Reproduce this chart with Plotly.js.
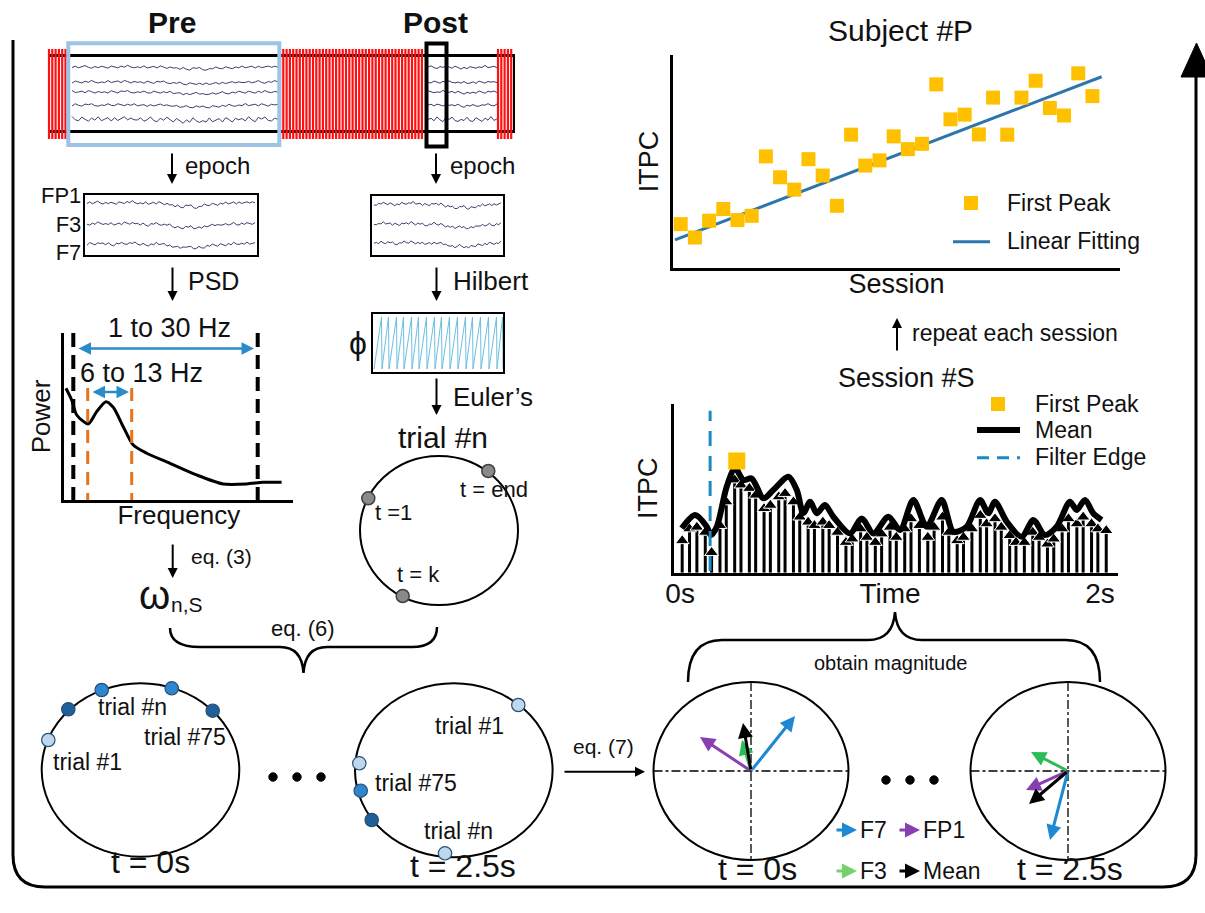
<!DOCTYPE html>
<html><head><meta charset="utf-8">
<script src="https://cdn.plot.ly/plotly-3.0.1.min.js"></script>
<style>html,body{margin:0;padding:0;background:#fff}#chart{width:1205px;height:913px}</style>
</head><body><div id="chart"></div>
<script>
// ---------------- data ----------------
// Subject #P : first-peak ITPC per session
const sessions = [1,2,3,4,5,6,7,8,9,10,11,12,13,14,15,16,17,18,19,20,21,22,23,24,25,26,27,28,29,30];
const firstPeakITPC = [0.206,0.143,0.222,0.277,0.225,0.245,0.524,0.426,0.368,0.511,0.434,0.292,0.626,0.481,0.505,0.618,0.558,0.583,0.862,0.698,0.720,0.627,0.800,0.626,0.800,0.879,0.751,0.716,0.914,0.807];
const fitSessions = [0.6, 30.65];
const fitITPC = [0.132, 0.898];

// Session #S : mean ITPC over time
const meanTime = [0.008,0.071,0.127,0.146,0.175,0.222,0.262,0.302,0.341,0.397,0.444,0.516,0.556,0.587,0.619,0.651,0.690,0.730,0.810,0.865,0.921,0.992,1.048,1.111,1.175,1.246,1.302,1.365,1.429,1.468,1.500,1.556,1.627,1.683,1.738,1.794,1.857,1.889,1.929,1.968,2.008];
const meanITPC = [0.263,0.342,0.273,0.223,0.273,0.510,0.619,0.549,0.559,0.441,0.490,0.569,0.490,0.352,0.421,0.352,0.401,0.332,0.233,0.322,0.233,0.332,0.253,0.431,0.273,0.431,0.243,0.273,0.431,0.352,0.421,0.302,0.213,0.312,0.223,0.273,0.421,0.372,0.431,0.352,0.312];
const stemTime = [0.01,0.045,0.08,0.12,0.15,0.19,0.22,0.26,0.29,0.33,0.36,0.40,0.43,0.47,0.50,0.54,0.57,0.61,0.64,0.68,0.71,0.75,0.79,0.82,0.86,0.89,0.93,0.96,1.00,1.03,1.07,1.10,1.14,1.18,1.21,1.25,1.28,1.32,1.35,1.39,1.43,1.46,1.50,1.53,1.57,1.60,1.64,1.68,1.71,1.75,1.78,1.82,1.85,1.89,1.92,1.96,1.99,2.03];
const stemITPC = [0.19,0.26,0.27,0.24,0.12,0.28,0.42,0.55,0.52,0.50,0.46,0.38,0.40,0.45,0.47,0.42,0.33,0.30,0.28,0.30,0.28,0.24,0.18,0.20,0.26,0.21,0.18,0.23,0.27,0.21,0.26,0.32,0.28,0.21,0.27,0.33,0.24,0.19,0.21,0.26,0.34,0.29,0.32,0.27,0.22,0.18,0.18,0.24,0.21,0.17,0.20,0.26,0.32,0.29,0.33,0.29,0.26,0.25];
const firstPeakTime = [0.27];
const firstPeakValue = [0.662];
const filterEdgeTime = 0.143;
const timeTickVals = [0, 1, 2];
const timeTickText = ['0s', 'Time', '2s'];

// PSD sketch
const psdFreq = [-0.16,0.74,1.53,3.35,4.67,6.13,7.28,8.85,10.42,12.53,16.19,20.39,24.58,28.25,30.86,33.76];
const psdPower = [0.669,0.599,0.509,0.455,0.529,0.589,0.555,0.439,0.329,0.280,0.220,0.150,0.096,0.096,0.106,0.106];

// EEG sketch wiggles
const eegNoise = [0.3,-0.4,0.6,0.1,-0.7,0.5,0.9,-0.2,0.4,-0.6,0.2,0.7,-0.5,0.1,0.8,-0.3,0.5,-0.8,0.2,0.6,-0.1,0.3,-0.9,0.4,0.1,-0.4,0.7,-0.6,0.0,0.8,-0.3,0.2,-0.2,0.6,-0.7,0.3,0.9,-0.4,0.1,-0.6,0.5,0.7,-0.1,0.2,-0.8,0.3,0.6,-0.5,0.2,0.8,-0.2,0.4,-0.7,0.5,0.0,-0.4,0.7,-0.3,0.6,0.1,-0.5,0.4,-0.2,0.3];
const eegSlow = [0,0.1,0.1,0.2,0.2,0.3,0.2,0.1,0,-0.1,-0.1,0,0.1,0.2,0.3,0.3,0.4,0.3,0.2,0.1,0,-0.1,-0.2,-0.2,-0.1,0,0.1,0.1,0,-0.1,-0.3,-0.5,-0.7,-0.9,-1.1,-1.2,-1.1,-0.9,-0.8,-1.0,-1.3,-1.4,-1.2,-1.0,-0.8,-0.6,-0.5,-0.4,-0.3,-0.3,-0.2,-0.1,-0.1,0,0,0.1,0.1,0.2,0.2,0.1,0.1,0.2,0.3,0.2];
const phaseResets = [374,382,389,397,404,412,419,427,435,442,450,458,466,473,481,489,497,503];

// Phase vectors (pixel offsets from circle centre) : F7, FP1, F3, Mean
const vecNames = ['F7','FP1','F3','Mean'];
const vecColors = ['#1E88D4','#8A3FB0','#2DBB55','#000000'];
const vecT0dx = [44,-51,-9,-8], vecT0dy = [-55,-34,-31,-48];
const vecT25dx = [-18,-42,-37,-39], vecT25dy = [69,19,-19,33];

// ---------------- build ----------------
const FONT = 'Liberation Sans, Arial, Helvetica, sans-serif';
const traces = [];
const shapes = [];
const ann = [];

function T(x, y, text, size, extra) {
  return Object.assign({x, y, xref:'x', yref:'y', text, showarrow:false,
    font:{family:FONT, size, color:'#111'}, xanchor:'center', yanchor:'middle'}, extra || {});
}
function arrow(x0, y0, x1, y1, color, width, extra) {
  return Object.assign({x:x1, y:y1, ax:x0, ay:y0, xref:'x', yref:'y', axref:'x', ayref:'y',
    text:'', showarrow:true, arrowhead:2, arrowsize:1, arrowwidth:width, arrowcolor:color, standoff:0, startstandoff:0}, extra || {});
}
function line(x0,y0,x1,y1,color,width,dash,layer){
  return {type:'line', xref:'x', yref:'y', x0,y0,x1,y1, line:{color, width, dash:dash||'solid'}, layer:layer||'above'};
}
function rect(x0,y0,x1,y1,color,width,fill,layer){
  return {type:'rect', xref:'x', yref:'y', x0,y0,x1,y1, line:{color, width}, fillcolor:fill||'rgba(0,0,0,0)', layer:layer||'above'};
}
function ell(cx,cy,rx,ry,color,width,fill){
  return {type:'circle', xref:'x', yref:'y', x0:cx-rx, y0:cy-ry, x1:cx+rx, y1:cy+ry, line:{color, width}, fillcolor:fill||'rgba(0,0,0,0)', layer:'above'};
}
function eeg(x0, x1, yb, na, sa, shift, n) {
  const xs = [], ys = [];
  for (let i = 0; i < n; i++) {
    xs.push(x0 + (x1 - x0) * i / (n - 1));
    ys.push(yb + na * eegNoise[(i + shift) % eegNoise.length] - sa * eegSlow[(i * Math.round(64 / n)) % 64]);
  }
  return {x:xs, y:ys, xaxis:'x', yaxis:'y', mode:'lines', line:{color:'#3d3f6e', width:1}, hoverinfo:'skip', type:'scatter'};
}

// ---- outer frame ----
shapes.push({type:'path', xref:'x', yref:'y', path:'M13,40 L13,855 Q13,887 45,887 L1163,887 Q1196,887 1196,855 L1196,76', line:{color:'#000', width:3}, layer:'above'});
shapes.push({type:'path', xref:'x', yref:'y', path:'M1181,77 L1196.5,43 L1212,77 Z', line:{color:'#000', width:1}, fillcolor:'#000', layer:'above'});

// ---- raw EEG strip ----
shapes.push(line(48,55.5,515,55.5,'#000',3,null,'below'));
shapes.push(line(48,131.5,515,131.5,'#000',3,null,'below'));
shapes.push(line(49,55,49,132,'#000',2,null,'below'));
shapes.push(line(514,55,514,132,'#000',2,null,'below'));
const hx = [], hy = [];
[[49,67],[280,425],[498,514]].forEach(([a,b]) => {
  for (let x = a; x <= b; x += 3.3) { hx.push(x, x, null); hy.push(49, 139, null); }
});
traces.push({x:hx, y:hy, xaxis:'x', yaxis:'y', mode:'lines', line:{color:'#FF1010', width:2.2}, hoverinfo:'skip', type:'scatter'});
const stripY = [67, 82, 92, 105, 119];
stripY.forEach((yb, k) => {
  const na = k === 4 ? 3.2 : 1.6;
  traces.push(eeg(72, 278, yb, na, 1.5, k * 11, 64));
  traces.push(eeg(428, 497, yb, na, 0.8, k * 7 + 3, 24));
});
shapes.push(rect(68.3,43.3,279.3,145,'#9DC3E6',4));
shapes.push(rect(426.5,43.5,446.5,146.5,'#000',4));
ann.push(T(172, 22, '<b>Pre</b>', 30));
ann.push(T(435, 22, '<b>Post</b>', 30));

// ---- epoch arrows ----
ann.push(arrow(172,152,172,184,'#000',2));
ann.push(T(183,165,'epoch',24,{xanchor:'left'}));
ann.push(arrow(436,152,436,184,'#000',2));
ann.push(T(448,165,'epoch',24,{xanchor:'left'}));

// ---- epoch boxes ----
shapes.push(rect(84,194,258,256,'#000',2));
[203,224,244].forEach((yb,k) => traces.push(eeg(87, 255, yb, 1.8, 3, k * 13, 64)));
ann.push(T(83,224,'FP1<br>F3<br>F7',22,{xanchor:'right', align:'right'}));
shapes.push(rect(371,195,504,256,'#000',2));
[204,224,243].forEach((yb,k) => traces.push(eeg(374, 501, yb, 1.8, 3, k * 13 + 5, 56)));

// ---- PSD / Hilbert arrows ----
ann.push(arrow(172.5,266,172.5,301,'#000',2));
ann.push(T(186,281,'PSD',25,{xanchor:'left'}));
ann.push(arrow(436.5,266,436.5,301,'#000',2));
ann.push(T(451,281,'Hilbert',26,{xanchor:'left'}));

// ---- phase box ----
shapes.push(rect(372,313,504,373,'#000',2));
const sx = [], sy = [];
for (let i = 0; i < phaseResets.length - 1; i++) {
  sx.push(phaseResets[i], phaseResets[i+1] - 0.5, phaseResets[i+1]);
  sy.push(369, 317, 369);
}
traces.push({x:sx, y:sy, xaxis:'x', yaxis:'y', mode:'lines', line:{color:'#6CC0DF', width:1}, hoverinfo:'skip', type:'scatter'});
ann.push(T(358,343,'ϕ',32));
ann.push(arrow(436.5,377,436.5,415,'#000',2));
ann.push(T(451,397,'Euler’s',26,{xanchor:'left'}));

// ---- trial #n circle ----
ann.push(T(443,437,'trial #n',30));
shapes.push(ell(439,530.5,79,74.5,'#000',2));
[[488.3,471],[368.3,498.3],[402.7,596]].forEach(([x,y]) => shapes.push(ell(x,y,6.5,6.5,'#404040',1.5,'#8a8a8a')));
ann.push(T(458,489,'t = end',22,{xanchor:'left'}));
ann.push(T(373,512,'t =1',22,{xanchor:'left'}));
ann.push(T(418,574,'t = k',22));

// ---- PSD sub-figure decorations ----
shapes.push(line(73.3,333,73.3,500,'#000',4,'14px,8px'));
shapes.push(line(257.7,333,257.7,500,'#000',4,'14px,8px'));
shapes.push(line(87.7,388,87.7,500,'#E8731A',3,'13px,8px'));
shapes.push(line(131.7,388,131.7,500,'#E8731A',3,'13px,8px'));
ann.push(arrow(77,348.5,254,348.5,'#2A8BCB',2.5,{arrowside:'end+start'}));
ann.push(arrow(91,392,129,392,'#2A8BCB',2.5,{arrowside:'end+start'}));
ann.push(T(169,328,'1 to 30 Hz',27));
ann.push(T(141,373,'6 to 13 Hz',27));
ann.push(arrow(172.7,543,172.7,578,'#000',2));
ann.push(T(189,556,'eq. (3)',21,{xanchor:'left'}));
ann.push(T(154,595,'ω',40));
ann.push(T(169,604,'n,S',21,{xanchor:'left'}));

// ---- eq. (6) brace ----
shapes.push({type:'path', xref:'x', yref:'y', path:'M170,628 Q170,647 200,647 L280,647 Q302,647 303.5,673 Q305,647 327,647 L412,647 Q437,647 437,627', line:{color:'#000', width:2.5}, layer:'above'});
ann.push(T(303,628,'eq. (6)',22));

// ---- trial circles ----
const cLight = '#BDD7EE', cMid = '#2E86D0', cDark = '#1F5F9A';
shapes.push(ell(140.5,770,98.8,86.7,'#000',2));
[[48.3,740,cLight],[68.3,709.3,cDark],[101.7,690,cMid],[171.7,688.3,cMid],[212.7,710.7,cDark]].forEach(([x,y,c]) => shapes.push(ell(x,y,6.7,6.7,'#2b4f70',1.2,c)));
ann.push(T(132,707,'trial #n',23));
ann.push(T(185,737,'trial #75',23));
ann.push(T(87,762,'trial #1',23));
ann.push(T(150,862,'t = 0s',32));
shapes.push(ell(453.8,770.3,98.8,87,'#000',2));
[[518.3,705,cLight],[359.3,763.3,cLight],[360.7,790.7,cMid],[371.7,820,cDark],[445,853.3,cLight]].forEach(([x,y,c]) => shapes.push(ell(x,y,6.7,6.7,'#2b4f70',1.2,c)));
ann.push(T(469,726,'trial #1',23));
ann.push(T(416,783,'trial #75',23));
ann.push(T(458,831,'trial #n',23));
ann.push(T(463,866,'t = 2.5s',32));
[273,297,321].forEach(x => shapes.push(ell(x,777,4.2,4.2,'#000',1,'#000')));
ann.push(T(603,746,'eq. (7)',21));
ann.push(arrow(563,771.7,645,771.7,'#000',2));

// ---- phase vector circles ----
function vecCircle(cx, cy, dxs, dys) {
  shapes.push(ell(cx,cy,97.5,89,'#000',2));
  shapes.push(line(cx-97.5,cy,cx+97.5,cy,'#000',1.3,'dashdot'));
  shapes.push(line(cx,cy-89,cx,cy+89,'#000',1.3,'dashdot'));
  for (let i = 0; i < dxs.length; i++) ann.push(arrow(cx, cy, cx + dxs[i], cy + dys[i], vecColors[i], 3));
}
vecCircle(751, 771, vecT0dx, vecT0dy);
vecCircle(1068, 771, vecT25dx, vecT25dy);
[886,910,934].forEach(x => shapes.push(ell(x,780,4.2,4.2,'#000',1,'#000')));
ann.push(T(757,869,'t = 0s',32));
ann.push(T(1070,869,'t = 2.5s',32));
// vector legend
const legPos = [[835,830],[898,830],[835,871],[898,871]];
const legCol = ['#1E88D4','#8A3FB0','#77D16A','#000000'];
for (let i = 0; i < 4; i++) {
  const [lx, ly] = legPos[i];
  ann.push(arrow(lx, ly, lx + 22, ly, legCol[i], 3));
  ann.push(T(lx + 23, ly, vecNames[i], 23, {xanchor:'left'}));
}

// ---- obtain magnitude brace ----
shapes.push({type:'path', xref:'x', yref:'y', path:'M688,682 Q688,640 722,640 L868,640 Q893,640 895,612 Q897,640 922,640 L1066,640 Q1100,640 1100,682', line:{color:'#000', width:2.5}, layer:'above'});
ann.push(T(890,663,'obtain magnitude',20));

// ---- repeat each session ----
ann.push(arrow(897,352,897,318,'#000',2));
ann.push(T(910,333,'repeat each session',23,{xanchor:'left'}));

// ---- titles ----
ann.push(T(900,30,'Subject #P',30));
ann.push(T(906,378,'Session #S',27));

// Subject legend
shapes.push(rect(964,196,978,210,'#FFC000',0,'#FFC000'));
shapes.push(line(953,241.7,990,241.7,'#2C76AE',3));
ann.push(T(1005,203,'First Peak',23,{xanchor:'left'}));
ann.push(T(1005,241,'Linear Fitting',23,{xanchor:'left'}));
// Session legend
shapes.push(rect(991,397,1005,411,'#FFC000',0,'#FFC000'));
shapes.push(line(977,430,1020,430,'#000',6));
shapes.push(line(977,457.7,1020,457.7,'#1A8BBF',3,'12px,8px'));
ann.push(T(1033,404,'First Peak',23,{xanchor:'left'}));
ann.push(T(1033,430,'Mean',23,{xanchor:'left'}));
ann.push(T(1033,457,'Filter Edge',23,{xanchor:'left'}));

// ---- Subject #P chart ----
traces.push({x:fitSessions, y:fitITPC, xaxis:'x2', yaxis:'y2', mode:'lines', line:{color:'#2C76AE', width:3}, type:'scatter', name:'Linear Fitting'});
traces.push({x:sessions, y:firstPeakITPC, xaxis:'x2', yaxis:'y2', mode:'markers', marker:{symbol:'square', size:14, color:'#FFC000'}, type:'scatter', name:'First Peak'});

// ---- Session #S chart ----
const stx = [], sty = [];
stemTime.forEach((t, i) => { stx.push(t, t, null); sty.push(0, stemITPC[i], null); });
traces.push({x:stx, y:sty, xaxis:'x3', yaxis:'y3', mode:'lines', line:{color:'#000', width:3}, type:'scatter', hoverinfo:'skip'});
traces.push({x:stemTime, y:stemITPC, xaxis:'x3', yaxis:'y3', mode:'markers', marker:{symbol:'triangle-up', size:12, color:'#000', line:{color:'#fff', width:1}}, type:'scatter', name:'ITPC'});
traces.push({x:meanTime, y:meanITPC, xaxis:'x3', yaxis:'y3', mode:'lines', line:{color:'#000', width:6, shape:'spline', smoothing:0.8}, type:'scatter', name:'Mean'});
traces.push({x:firstPeakTime, y:firstPeakValue, xaxis:'x3', yaxis:'y3', mode:'markers', marker:{symbol:'square', size:17, color:'#FFC000'}, type:'scatter', name:'First Peak'});
shapes.push({type:'line', xref:'x3', yref:'y3', x0:filterEdgeTime, x1:filterEdgeTime, y0:0.01, y1:0.96, line:{color:'#1A8BBF', width:3, dash:'15px,10px'}, layer:'above'});

// ---- PSD chart ----
traces.push({x:psdFreq, y:psdPower, xaxis:'x4', yaxis:'y4', mode:'lines', line:{color:'#000', width:3, shape:'spline', smoothing:0.7}, type:'scatter', name:'PSD'});

const axBase = {showline:true, linewidth:3, linecolor:'#000', showgrid:false, zeroline:false, ticks:'', showticklabels:false, fixedrange:true};
const layout = {
  width:1205, height:913, margin:{l:0, r:0, t:0, b:0}, showlegend:false,
  paper_bgcolor:'#fff', plot_bgcolor:'rgba(0,0,0,0)',
  font:{family:FONT, color:'#111'},
  xaxis:{range:[0,1205], domain:[0,1], visible:false, fixedrange:true},
  yaxis:{range:[913,0], domain:[0,1], visible:false, fixedrange:true},
  xaxis2:Object.assign({}, axBase, {domain:[673/1205, 1120/1205], anchor:'y2', range:[0.458, 31.94],
    title:{text:'Session', font:{size:27}, standoff:5}}),
  yaxis2:Object.assign({}, axBase, {domain:[(913-268)/913, (913-55)/913], anchor:'x2', range:[0, 1],
    title:{text:'ITPC', font:{size:27}, standoff:4}}),
  xaxis3:Object.assign({}, axBase, {domain:[674/1205, 1118/1205], anchor:'y3', range:[-0.029, 2.086],
    showticklabels:true, tickvals:timeTickVals, ticktext:timeTickText, tickfont:{size:28}, ticklabelstandoff:-6}),
  yaxis3:Object.assign({}, axBase, {domain:[(913-572.7)/913, (913-404)/913], anchor:'x3', range:[0, 1],
    title:{text:'ITPC', font:{size:27}, standoff:6}}),
  xaxis4:Object.assign({}, axBase, {domain:[64.3/1205, 293.3/1205], anchor:'y4', range:[-0.42, 35.6],
    title:{text:'Frequency', font:{size:26}, standoff:4}}),
  yaxis4:Object.assign({}, axBase, {domain:[(913-500)/913, (913-333)/913], anchor:'x4', range:[0, 1],
    title:{text:'Power', font:{size:26}, standoff:4}}),
  shapes, annotations:ann
};
Plotly.newPlot('chart', traces, layout, {displayModeBar:false, staticPlot:true});
</script>
</body></html>
